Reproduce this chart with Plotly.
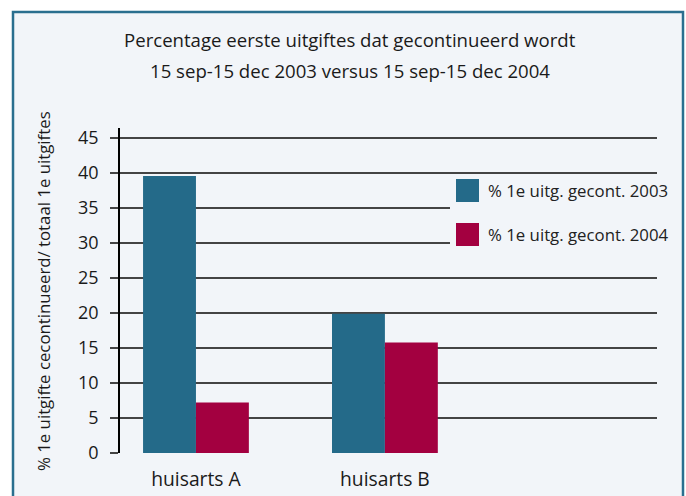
import plotly.graph_objects as go

categories = ["huisarts A", "huisarts B"]
series_names = ["% 1e uitg. gecont. 2003", "% 1e uitg. gecont. 2004"]
values_2003 = [39.6, 19.9]
values_2004 = [7.2, 15.8]
y_ticks = list(range(0, 50, 5))

colors = ["#246a89", "#a30040"]
bg = "#f2f5f9"
grid = "#444444"
font = "Open Sans"

fig = go.Figure()
for name, vals, col in zip(series_names, [values_2003, values_2004], colors):
    fig.add_trace(go.Bar(x=categories, y=vals, name=name, marker=dict(color=col, line=dict(width=0)),
                         showlegend=False, hoverinfo="skip"))

W, H = 686, 496
L, R, T, B = 120, 29, 128, 43
pw, ph = W - L - R, H - T - B

def px_x(p):
    return (p - L) / pw

def px_y(p):
    return (H - B - p) / ph

shapes = [
    dict(type="rect", xref="paper", yref="paper", x0=px_x(13), x1=px_x(683), y0=px_y(12), y1=px_y(510),
         fillcolor=bg, line=dict(color="#2a6f8f", width=2.5), layer="below"),
    dict(type="rect", xref="paper", yref="y", x0=px_x(450), x1=1.0, y0=26, y1=38,
         fillcolor=bg, line=dict(width=0), layer="above"),
]
annotations = []
leg_rows = [(179, 202), (223, 246)]
for (y0, y1), name, col in zip(leg_rows, series_names, colors):
    shapes.append(dict(type="rect", xref="paper", yref="paper", x0=px_x(456), x1=px_x(479),
                       y0=px_y(y1), y1=px_y(y0), fillcolor=col, line=dict(width=0), layer="above"))
    annotations.append(dict(text=name, xref="paper", yref="paper", x=px_x(486), y=px_y((y0 + y1) / 2),
                            xanchor="left", yanchor="middle", showarrow=False,
                            font=dict(family=font, size=16.8, color="#222222")))

annotations.append(dict(text="Percentage eerste uitgiftes dat gecontinueerd wordt", xref="paper", yref="paper",
                        x=px_x(350), y=px_y(40), xanchor="center", yanchor="middle", showarrow=False,
                        font=dict(family=font, size=18.6, color="#1a1a1a")))
annotations.append(dict(text="15 sep-15 dec 2003 versus 15 sep-15 dec 2004", xref="paper", yref="paper",
                        x=px_x(350), y=px_y(70), xanchor="center", yanchor="middle", showarrow=False,
                        font=dict(family=font, size=18.6, color="#1a1a1a")))
annotations.append(dict(text="% 1e uitgifte cecontinueerd/ totaal 1e uitgiftes", xref="paper", yref="paper",
                        x=px_x(43), y=px_y(291), xanchor="center", yanchor="middle", textangle=-90,
                        showarrow=False, font=dict(family=font, size=16.8, color="#1a1a1a")))

fig.update_layout(
    width=W, height=H,
    margin=dict(l=L, r=R, t=T, b=B, pad=0, autoexpand=False),
    paper_bgcolor="white", plot_bgcolor="rgba(0,0,0,0)",
    barmode="group", bargap=0.44, bargroupgap=0,
    shapes=shapes, annotations=annotations,
    xaxis=dict(range=[-0.402, 2.44], showgrid=False, showline=False, zeroline=False, ticks="",
               ticklabelstandoff=13, automargin=False,
               tickfont=dict(family=font, size=19.3, color="#1a1a1a"), fixedrange=True),
    yaxis=dict(range=[0, 46.45], tickvals=y_ticks, showgrid=True, gridcolor=grid, gridwidth=1.5,
               zeroline=False, showline=True, linecolor="black", linewidth=1.5, automargin=False,
               ticks="outside", ticklen=8, tickcolor=grid, tickwidth=1.5, ticklabelstandoff=8,
               tickfont=dict(family=font, size=18, color="#1a1a1a"), fixedrange=True),
)

fig.write_html("out.html", config={"displayModeBar": False},
               post_script="document.body.style.margin='0px';")
